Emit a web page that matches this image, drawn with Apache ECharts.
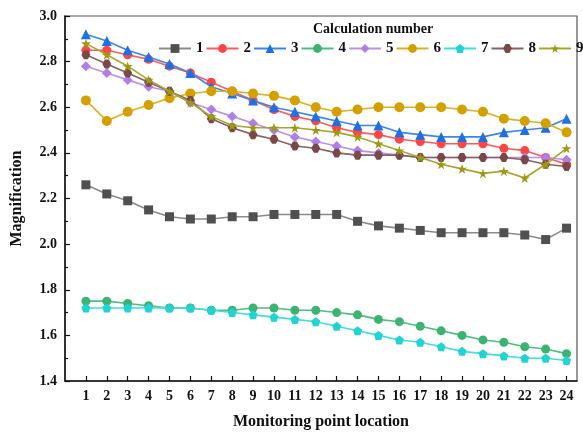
<!DOCTYPE html>
<html><head><meta charset="utf-8">
<script src="https://cdn.jsdelivr.net/npm/echarts@6/dist/echarts.min.js"></script>
<style>html,body{margin:0;padding:0;background:#fff}#c{width:583px;height:435px}</style>
</head><body><div id="c"></div>
<script>
const points = [1,2,3,4,5,6,7,8,9,10,11,12,13,14,15,16,17,18,19,20,21,22,23,24];
const seriesNames = ['1','2','3','4','5','6','7','8','9'];
const s1 = [2.26,2.22,2.19,2.15,2.12,2.11,2.11,2.12,2.12,2.13,2.13,2.13,2.13,2.10,2.08,2.07,2.06,2.05,2.05,2.05,2.05,2.04,2.02,2.07];
const s2 = [2.85,2.85,2.83,2.81,2.78,2.75,2.71,2.67,2.63,2.59,2.56,2.54,2.51,2.49,2.48,2.46,2.45,2.44,2.44,2.44,2.42,2.41,2.38,2.35];
const s3 = [2.92,2.89,2.85,2.82,2.79,2.75,2.69,2.66,2.63,2.60,2.58,2.56,2.54,2.52,2.52,2.49,2.48,2.47,2.47,2.47,2.49,2.50,2.51,2.55];
const s4 = [1.75,1.75,1.74,1.73,1.72,1.72,1.71,1.71,1.72,1.72,1.71,1.71,1.70,1.69,1.67,1.66,1.64,1.62,1.60,1.58,1.57,1.55,1.54,1.52];
const s5 = [2.78,2.75,2.72,2.69,2.67,2.62,2.59,2.56,2.53,2.50,2.47,2.45,2.43,2.41,2.40,2.39,2.38,2.38,2.38,2.38,2.38,2.38,2.38,2.37];
const s6 = [2.63,2.54,2.58,2.61,2.64,2.66,2.67,2.67,2.66,2.65,2.63,2.60,2.58,2.59,2.60,2.60,2.60,2.60,2.59,2.58,2.55,2.54,2.53,2.49];
const s7 = [1.72,1.72,1.72,1.72,1.72,1.72,1.71,1.70,1.69,1.68,1.67,1.66,1.64,1.62,1.60,1.58,1.57,1.55,1.53,1.52,1.51,1.50,1.50,1.49];
const s8 = [2.83,2.79,2.75,2.71,2.67,2.63,2.55,2.51,2.48,2.46,2.43,2.42,2.40,2.39,2.39,2.39,2.38,2.38,2.38,2.38,2.38,2.37,2.35,2.34];
const s9 = [2.88,2.83,2.78,2.72,2.67,2.62,2.56,2.52,2.51,2.51,2.51,2.50,2.49,2.47,2.44,2.41,2.38,2.35,2.33,2.31,2.32,2.29,2.35,2.42];
const yTicks = [1.4,1.6,1.8,2.0,2.2,2.4,2.6,2.8,3.0];

const allData = [s1,s2,s3,s4,s5,s6,s7,s8,s9];
const colors = ['#505050','#ff4444','#1f6fe5','#3cb371','#b07ee8','#d4a000','#22d3d3','#7a4848','#9c9a10'];
const lineColors = ['#8a8a8a','#ff5a5a','#3a85f0','#4cbf7f','#bb90ee','#dcb020','#40dede','#8a6060','#a8a630'];
const star = 'path://M50,0 L61,35 L98,35 L68,57 L79,91 L50,70 L21,91 L32,57 L2,35 L39,35 Z';
const pent = 'path://M50,0 L100,38 L81,100 L19,100 L0,38 Z';
const hexa = 'path://M28,0 L72,0 L100,50 L72,100 L28,100 L0,50 Z';
const symbols = ['rect','circle','triangle','circle','diamond','circle',pent,hexa,star];
const sizes = [9,9,10,9,10,10,9,9,10];
const font = '"Liberation Serif","Times New Roman",serif';

const series = allData.map((d,i)=>({
  name: seriesNames[i], type:'line',
  data: d.map((v,j)=>[points[j], v]),
  symbol: symbols[i], symbolSize: sizes[i],
  itemStyle:{color: colors[i]},
  lineStyle:{color: lineColors[i], width:1.6},
  z: 2+i
}));

const chart = echarts.init(document.getElementById('c'));
chart.setOption({
  animation:false,
  backgroundColor:'#fff',
  title:{text:'Calculation number', left:308, top:17,
    textStyle:{fontFamily:font, fontWeight:'bold', fontSize:14, color:'#111'}},
  legend:{left:153, top:36, width:450, itemWidth:32, itemHeight:11, itemGap:2,
    textStyle:{fontFamily:font, fontWeight:'bold', fontSize:15, color:'#111'},
    data: seriesNames},
  grid:{left:65, right:6, top:16, bottom:52, show:true, borderColor:'#555', borderWidth:1.2},
  xAxis:{type:'value', min:0, max:24.5,
    name:'Monitoring point location', nameLocation:'middle', nameGap:33,
    nameTextStyle:{fontFamily:font, fontWeight:'bold', fontSize:16, color:'#111'},
    axisLine:{show:true, lineStyle:{color:'#111', width:1.5}},
    axisTick:{show:true, inside:true, length:5, customValues: points, lineStyle:{color:'#111', width:1.2}},
    axisLabel:{customValues: points, fontFamily:font, fontWeight:'bold', fontSize:14, color:'#111', margin:8},
    splitLine:{show:false}},
  yAxis:{type:'value', min:1.4, max:3.0, interval:0.2,
    name:'Magnification', nameLocation:'middle', nameGap:40,
    nameTextStyle:{fontFamily:font, fontWeight:'bold', fontSize:16, color:'#111'},
    axisLine:{show:true, lineStyle:{color:'#111', width:1.5}},
    axisTick:{show:true, inside:true, length:5, lineStyle:{color:'#111', width:1.2}},
    minorTick:{show:true, splitNumber:2, length:3, lineStyle:{color:'#111', width:1.2}},
    axisLabel:{fontFamily:font, fontWeight:'bold', fontSize:14, color:'#111', margin:8,
      formatter:v=>v.toFixed(1)},
    splitLine:{show:false}},
  series
});
</script></body></html>
